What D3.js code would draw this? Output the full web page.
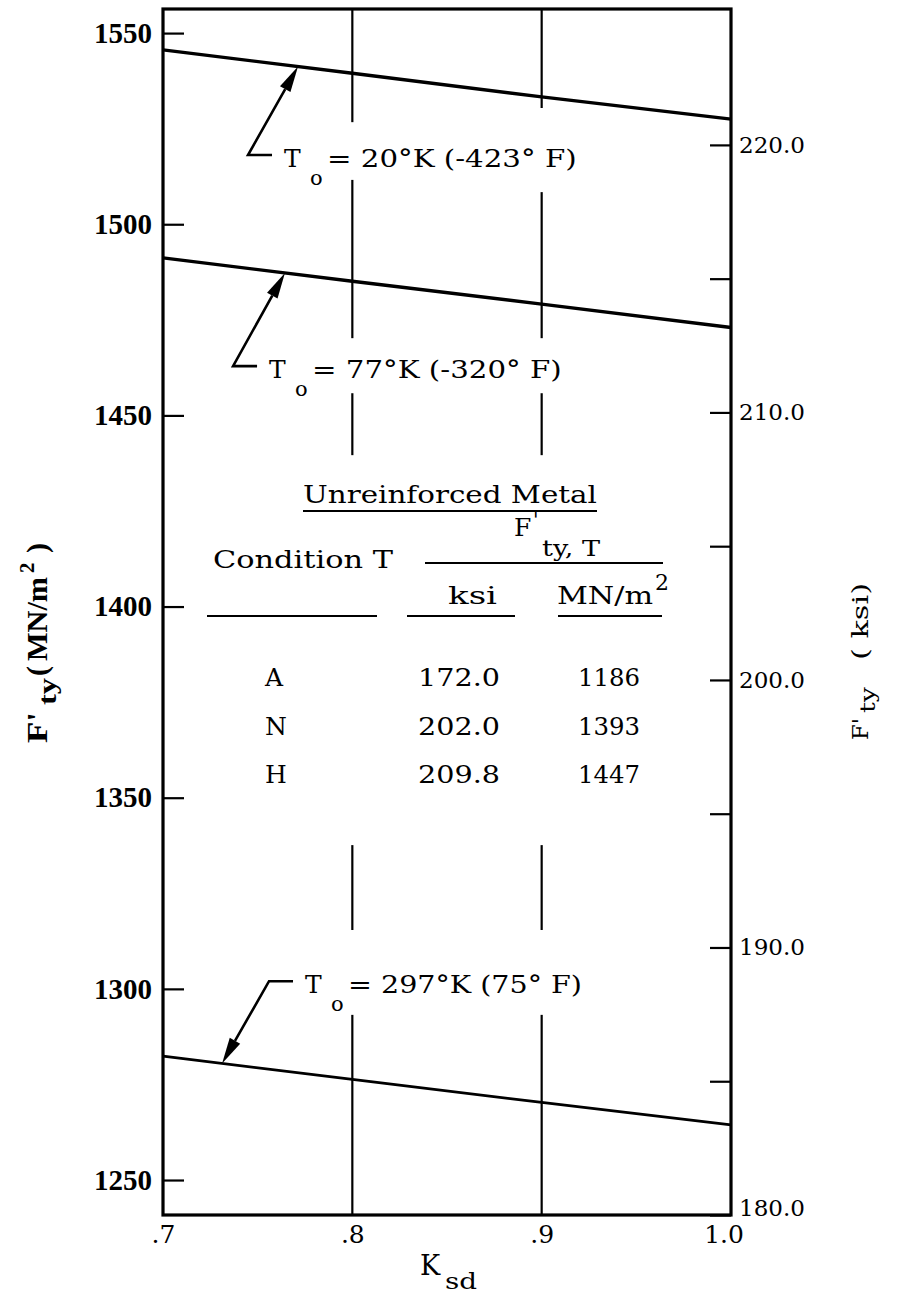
<!DOCTYPE html>
<html><head><meta charset="utf-8">
<script src="https://cdn.jsdelivr.net/npm/d3@7"></script>
<style>body{margin:0;background:#fff}</style>
</head><body><svg id="c" width="898" height="1296"></svg>
<script>
// ---- data ----
const kTicks = [0.7, 0.8, 0.9, 1.0];
const kTickLabels = [".7", ".8", ".9", "1.0"];
const mnTicks = [1250, 1300, 1350, 1400, 1450, 1500, 1550];
const ksiMajorTicks = [180, 190, 200, 210, 220];
const ksiMajorLabels = ["180.0", "190.0", "200.0", "210.0", "220.0"];
const ksiMinorTicks = [185, 195, 205, 215];
const kValues = [0.7, 0.8, 0.9, 1.0];
const fty20K = [1545.6, 1539.5, 1533.3, 1527.5];
const fty77K = [1491.2, 1485.1, 1479.1, 1473.0];
const fty297K = [1282.4, 1276.3, 1270.3, 1264.4];
const curveLabels = ["= 20°K (-423° F)", "= 77°K (-320° F)", "= 297°K (75° F)"];
const tableConditions = ["A", "N", "H"];
const tableKsi = ["172.0", "202.0", "209.8"];
const tableMN = ["1186", "1393", "1447"];

// ---- layout ----
const svg = d3.select("#c");
const m = {top: 9, left: 163, right: 167, bottom: 81};
const W = 898 - m.left - m.right;
const H = 1296 - m.top - m.bottom;
const x = d3.scaleLinear().domain([0.7, 1.0]).range([0, W]);
const y = d3.scaleLinear().domain([1240.85, 1556.3]).range([H, 0]);
const y2 = d3.scaleLinear().domain([180, 225.08]).range([H, 0]);
const g = svg.append("g").attr("transform", `translate(${m.left},${m.top})`);
const TYPE = "'DejaVu Serif', 'Liberation Serif', serif";
const SERIFB = "'Liberation Serif', 'DejaVu Serif', serif";

function txt(parent, s, px, py, len, size, extra) {
  const t = parent.append("text").attr("x", px).attr("y", py)
    .attr("font-family", TYPE).attr("font-size", size || 24).attr("fill", "#000").text(s);
  if (len) t.attr("textLength", len).attr("lengthAdjust", "spacingAndGlyphs");
  if (extra) extra(t);
  return t;
}

// broken vertical grid lines (extents in data units)
const gridSegs = {
  0.8: [[1526.7, 1556.3], [1470.2, 1511.6], [1439.6, 1455.8], [1315.4, 1337.6], [1240.85, 1293.2]],
  0.9: [[1530.4, 1556.3], [1470.2, 1508.4], [1439.6, 1455.8], [1315.4, 1337.6], [1240.85, 1293.2]]
};
[0.8, 0.9].forEach(k => {
  gridSegs[k].forEach(s => {
    g.append("line").attr("x1", x(k)).attr("x2", x(k))
      .attr("y1", y(s[0])).attr("y2", y(s[1]))
      .attr("stroke", "#000").attr("stroke-width", 2.2);
  });
});

// left axis
const ax = g.append("g").call(d3.axisLeft(y).tickValues(mnTicks).tickSizeInner(-21).tickSizeOuter(0).tickPadding(11).tickFormat(d3.format("d")));
ax.select(".domain").remove();
ax.selectAll("line").attr("stroke-width", 2.2);
ax.selectAll("text").attr("font-family", SERIFB).attr("font-weight", "bold").attr("font-size", 29).attr("fill", "#000");

// right axis
const ar = g.append("g").attr("transform", `translate(${W},0)`)
  .call(d3.axisRight(y2).tickValues(ksiMajorTicks).tickSizeInner(-21).tickSizeOuter(0).tickPadding(8)
    .tickFormat((d, i) => ksiMajorLabels[i]));
ar.select(".domain").remove();
ar.selectAll("line").attr("stroke-width", 2.2);
ar.selectAll("text").attr("font-family", TYPE).attr("font-size", 23).attr("fill", "#000")
  .attr("textLength", 66).attr("lengthAdjust", "spacingAndGlyphs")
  .attr("dy", d => d === 180 ? "0.0em" : "0.32em");

const arm = g.append("g").attr("transform", `translate(${W},0)`)
  .call(d3.axisRight(y2).tickValues(ksiMinorTicks).tickSizeInner(-21).tickSizeOuter(0).tickFormat(""));
arm.select(".domain").remove();
arm.selectAll("line").attr("stroke-width", 2.2);

// bottom axis
const ab = g.append("g").attr("transform", `translate(0,${H})`)
  .call(d3.axisBottom(x).tickValues(kTicks).tickSize(0).tickPadding(10).tickFormat((d, i) => kTickLabels[i]));
ab.select(".domain").remove();
ab.selectAll("text").attr("font-family", TYPE).attr("font-size", 25).attr("fill", "#000")
  .attr("dx", d => d === 1.0 ? "-0.3em" : "0em");

// frame
g.append("rect").attr("x", 0).attr("y", 0).attr("width", W).attr("height", H)
  .attr("fill", "none").attr("stroke", "#000").attr("stroke-width", 3.2);

// curves
const line = d3.line().x((d, i) => x(kValues[i])).y(d => y(d));
[[fty20K, 3.4], [fty77K, 3.4], [fty297K, 2.8]].forEach(([s, w]) => {
  g.append("path").datum(s).attr("d", line).attr("fill", "none").attr("stroke", "#000").attr("stroke-width", w);
});

// annotations: tip on curve, corner of leader
function valAt(series, k) {
  const i = Math.min(2, Math.floor((k - 0.7) / 0.1));
  const t = (k - kValues[i]) / (kValues[i + 1] - kValues[i]);
  return series[i] + t * (series[i + 1] - series[i]);
}
const annots = [
  {series: fty20K, tipK: 0.7713, cK: 0.7449, cMN: 1518.1},
  {series: fty77K, tipK: 0.7644, cK: 0.7370, cMN: 1462.9},
  {series: fty297K, tipK: 0.7312, cK: 0.7560, cMN: 1302.0}
];
annots.forEach((a, i) => {
  const tx = x(a.tipK), ty = y(valAt(a.series, a.tipK));
  const cx = x(a.cK), cy = y(a.cMN);
  const dx = tx - cx, dy = ty - cy, L = Math.hypot(dx, dy), ux = dx / L, uy = dy / L;
  const bx = tx - ux * 26, by = ty - uy * 26, px = -uy, py = ux;
  g.append("path").attr("d", `M${cx + 24},${cy}L${cx},${cy}L${bx},${by}`)
    .attr("fill", "none").attr("stroke", "#000").attr("stroke-width", 2.6);
  g.append("path").attr("d", `M${tx},${ty}L${bx + px * 6},${by + py * 6}L${bx - px * 6},${by - py * 6}Z`).attr("fill", "#000");
  txt(g, "T", cx + 36, cy + 12, null, 25);
  txt(g, "o", cx + 62, cy + 30, null, 21);
  txt(g, curveLabels[i], cx + 79, cy + 12, curveLabels[i].length * 15.6, 25);
});

// table (absolute page coordinates)
const T = svg.append("g");
txt(T, "Unreinforced Metal", 303, 503, 294, 25);
T.append("line").attr("x1", 303).attr("x2", 597).attr("y1", 511).attr("y2", 511).attr("stroke", "#000").attr("stroke-width", 2);
txt(T, "F", 514, 536, null, 25);
txt(T, "'", 533, 527, null, 20);
txt(T, "ty, T", 542, 556, 58, 22);
T.append("line").attr("x1", 425).attr("x2", 663).attr("y1", 563).attr("y2", 563).attr("stroke", "#000").attr("stroke-width", 2.2);
txt(T, "Condition T", 213, 568, 180, 25);
txt(T, "ksi", 448, 604, 49, 25);
txt(T, "MN/m", 557, 604, 96, 25);
txt(T, "2", 655, 590, null, 22);
[[207, 377], [407, 515], [558, 662]].forEach(s => {
  T.append("line").attr("x1", s[0]).attr("x2", s[1]).attr("y1", 616).attr("y2", 616).attr("stroke", "#000").attr("stroke-width", 2);
});
tableConditions.forEach((c, i) => {
  const yy = 686 + i * 48.5;
  txt(T, c, 265, yy, null, 25);
  txt(T, tableKsi[i], 418, yy, 82, 25);
  txt(T, tableMN[i], 578, yy, 62, 25);
});

// x axis title
txt(svg, "K", 420, 1275, null, 27);
txt(svg, "sd", 445, 1289, 32, 23);

// left axis title (rotated)
const lt = svg.append("g").attr("transform", "translate(47,743) rotate(-90)");
const LB = t => t.attr("font-family", SERIFB).attr("font-weight", "bold");
txt(lt, "F'", 0, 0, 31, 30, LB);
txt(lt, "ty", 38, 9, 27, 26, LB);
txt(lt, "(", 67, 0, null, 30, LB);
txt(lt, "MN/m", 82, 0, 84, 30, LB);
txt(lt, "2", 170, -13, null, 21, LB);
txt(lt, ")", 190, 0, null, 30, LB);

// right axis title (rotated)
const rt = svg.append("g").attr("transform", "translate(868,740) rotate(-90)");
txt(rt, "F'", 0, 0, 22, 23);
txt(rt, "ty", 27, 7, 26, 21);
txt(rt, "( ksi)", 80, 0, 77, 22);
</script>
</body></html>
